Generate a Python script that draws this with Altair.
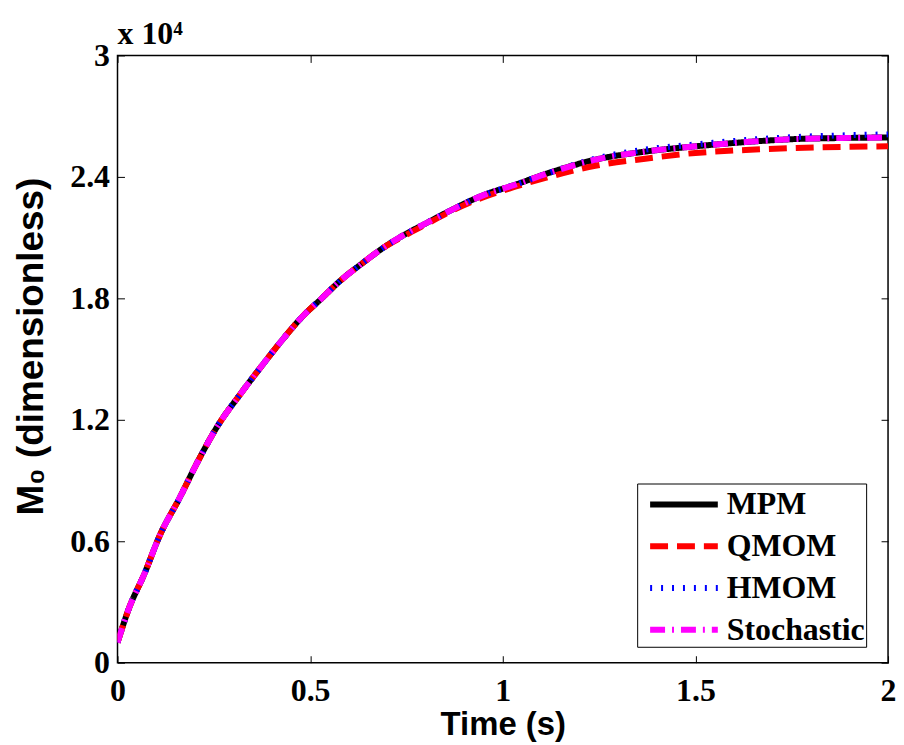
import altair as alt
import pandas as pd

time = [0, 0.03, 0.07, 0.11, 0.16, 0.21, 0.26, 0.32, 0.38, 0.43, 0.48, 0.53, 0.58, 0.64,
        0.69, 0.75, 0.8, 0.86, 0.95, 1.03, 1.12, 1.24, 1.37, 1.5, 1.63, 1.76, 1.88, 2.0]
mpm = [0.10, 0.27, 0.44, 0.63, 0.81, 1.00, 1.17, 1.33, 1.48, 1.60, 1.71, 1.80, 1.89, 1.98,
       2.05, 2.12, 2.17, 2.23, 2.31, 2.36, 2.42, 2.485, 2.525, 2.551, 2.572, 2.587, 2.592, 2.595]
qmom = [0.10, 0.27, 0.44, 0.63, 0.81, 1.00, 1.17, 1.33, 1.48, 1.60, 1.71, 1.80, 1.89, 1.98,
        2.05, 2.115, 2.165, 2.225, 2.30, 2.35, 2.40, 2.455, 2.49, 2.518, 2.533, 2.543, 2.548, 2.551]
hmom = [0.10, 0.27, 0.44, 0.63, 0.81, 1.00, 1.17, 1.33, 1.48, 1.60, 1.71, 1.80, 1.89, 1.98,
        2.05, 2.12, 2.17, 2.23, 2.31, 2.36, 2.42, 2.49, 2.535, 2.56, 2.582, 2.597, 2.605, 2.61]
stochastic = [0.10, 0.27, 0.44, 0.63, 0.81, 1.00, 1.17, 1.33, 1.48, 1.60, 1.71, 1.80, 1.89, 1.98,
              2.05, 2.12, 2.17, 2.23, 2.31, 2.36, 2.42, 2.485, 2.525, 2.551, 2.572, 2.587, 2.592, 2.595]

series_names = ["MPM", "QMOM", "HMOM", "Stochastic"]
series_values = [mpm, qmom, hmom, stochastic]
colors = ["#000000", "#ff0000", "#0000ff", "#ff00ff"]
dashes = [[1, 0], [18, 9], [2, 9], [15, 7, 2, 7]]

x_ticks = [0, 0.5, 1, 1.5, 2]
y_ticks = [0, 0.6, 1.2, 1.8, 2.4, 3]

rows = []
for name, vals in zip(series_names, series_values):
    for t, v in zip(time, vals):
        rows.append({"time": t, "value": v, "series": name})
df = pd.DataFrame(rows)

W, H = 774, 610
TL = 7

legend = alt.Legend(
    title=None, orient="none", legendX=522, legendY=430,
    labelFont="Liberation Serif", labelFontWeight="bold", labelFontSize=32,
    labelColor="black", symbolType="M-0.47,0H3.53", symbolSize=34 * 34,
    symbolStrokeWidth=6, labelOffset=49, rowPadding=6,
    labelExpr="datum.label + '\u2009'",
    strokeColor="black", fillColor="white", padding=1, cornerRadius=0,
)

xenc = alt.X("time:Q", scale=alt.Scale(domain=[0, 2], nice=False),
             axis=alt.Axis(title="Time (s)", values=x_ticks, format="~g", ticks=False,
                           domain=False, labelFlush=False, labelOverlap=False,
                           labelPadding=13, titlePadding=2, titleFontSize=33,
                           grid=True, gridColor="black", gridWidth=1, gridOpacity=1,
                           gridDash=[TL, H - 2 * TL, TL, 3000]))
yenc = alt.Y("value:Q", scale=alt.Scale(domain=[0, 3], nice=False),
             axis=alt.Axis(title="M₀ (dimensionless)", values=y_ticks, format="~g", ticks=False,
                           domain=False, labelFlush=False, labelOverlap=False,
                           labelPadding=8, titlePadding=19, titleFontSize=37, titleY=292,
                           grid=True, gridColor="black", gridWidth=1, gridOpacity=1,
                           gridDash=[TL, W - 2 * TL, TL, 3000]))

layers = []
for name in series_names:
    layers.append(
        alt.Chart(df).transform_filter(alt.datum.series == name)
        .mark_line(strokeWidth=6, clip=True, interpolate="monotone").encode(
            x=xenc, y=yenc,
            color=alt.Color("series:N", scale=alt.Scale(domain=series_names, range=colors), legend=legend),
            strokeDash=alt.StrokeDash("series:N", scale=alt.Scale(domain=series_names, range=dashes), legend=legend),
        )
    )

chart = alt.layer(*layers).properties(
    width=W, height=H,
    padding={"left": 5, "top": 9, "right": 0, "bottom": 0},
    title=alt.TitleParams("x 10⁴", anchor="start", frame="group", font="Liberation Serif",
                          fontSize=32, fontWeight="bold", color="black", offset=-12),
).configure_view(stroke="black", strokeWidth=1.5).configure_axis(
    labelFont="Liberation Serif", labelFontWeight="bold", labelFontSize=32, labelColor="black",
    titleFont="Liberation Sans", titleFontWeight="bold", titleColor="black",
)

chart.save("out.html", embed_options={"renderer": "svg", "actions": False})
